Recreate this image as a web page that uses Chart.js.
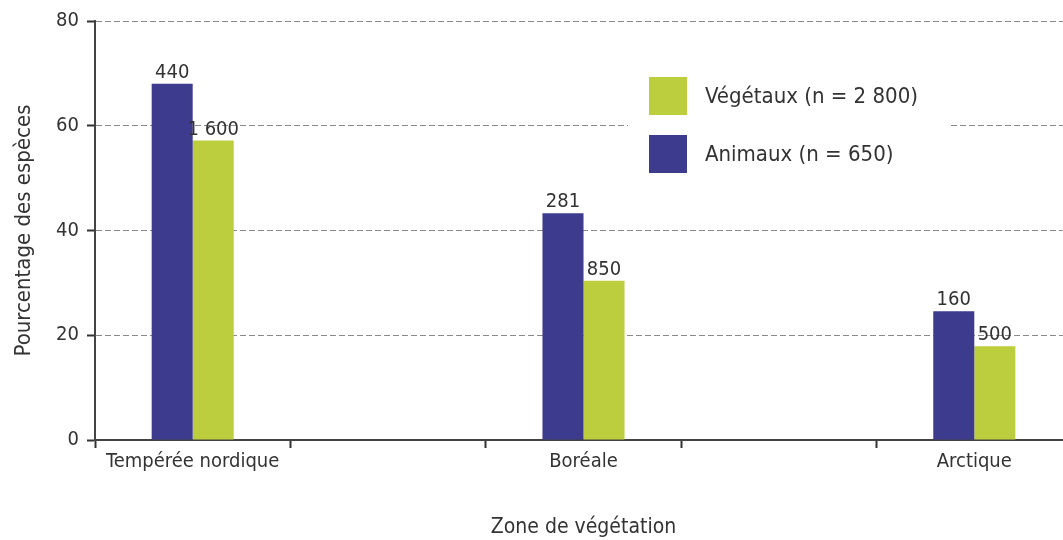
<!DOCTYPE html>
<html lang="fr">
<head>
<meta charset="utf-8">
<script src="https://cdn.jsdelivr.net/npm/chart.js@4.4.1/dist/chart.umd.min.js"></script>
<style>
  html, body { margin: 0; padding: 0; background: #fff; overflow: hidden; }
  #wrap { width: 1072px; height: 540px; position: relative; }
</style>
</head>
<body>
<div id="wrap"><canvas id="chart"></canvas></div>
<script>
// zones (blank slots keep the wide gaps between the groups)
const zones = ['Tempérée nordique', '', 'Boréale', '', 'Arctique'];
const animaux = [68, null, 43.3, null, 24.6];
const vegetaux = [57.2, null, 30.4, null, 17.9];
const animauxCounts = ['440', '', '281', '', '160'];
const vegetauxCounts = ['1 600', '', '850', '', '500'];
const legendOrder = [1, 0]; // Végétaux listed first

const FONT = '"Liberation Sans Narrow", "DejaVu Sans Condensed", "Liberation Sans", sans-serif';
const TEXT = '#333';

const overlay = {
    id: 'overlay',
    afterDatasetsDraw(chart) {
        const ctx = chart.ctx;
        const area = chart.chartArea;
        ctx.save();

        // counts above the bars
        ctx.font = '20px ' + FONT;
        ctx.fillStyle = TEXT;
        ctx.textAlign = 'center';
        ctx.textBaseline = 'bottom';
        chart.data.datasets.forEach(function (ds, i) {
            chart.getDatasetMeta(i).data.forEach(function (bar, j) {
                const txt = ds.counts[j];
                if (!txt) return;
                ctx.fillText(txt, bar.x, bar.y - 1);
            });
        });

        // legend box inside the plot
        const lx = area.left + 533, ly = area.top + 44;
        ctx.fillStyle = '#fff';
        ctx.fillRect(lx, ly, 320, 130);
        ctx.font = '22px ' + FONT;
        ctx.textAlign = 'left';
        ctx.textBaseline = 'middle';
        legendOrder.forEach(function (idx, k) {
            const ds = chart.data.datasets[idx];
            const y = ly + 12 + k * 58;
            ctx.fillStyle = ds.backgroundColor;
            ctx.fillRect(lx + 21, y, 38, 38);
            ctx.fillStyle = TEXT;
            ctx.fillText(ds.label, lx + 77, y + 20);
        });
        ctx.restore();
    }
};

const ctx = document.getElementById('chart').getContext('2d');
new Chart(ctx, {
    type: 'bar',
    data: {
        labels: zones,
        datasets: [
            {
                label: 'Animaux (n = 650)',
                data: animaux,
                counts: animauxCounts,
                backgroundColor: '#3d3b8e',
                categoryPercentage: 0.42,
                barPercentage: 1
            },
            {
                label: 'Végétaux (n = 2 800)',
                data: vegetaux,
                counts: vegetauxCounts,
                backgroundColor: '#bccd3e',
                categoryPercentage: 0.42,
                barPercentage: 1
            }
        ]
    },
    options: {
        responsive: true,
        maintainAspectRatio: false,
        animation: false,
        layout: { padding: { top: 21, right: 0, bottom: 0, left: 0 } },
        plugins: {
            legend: { display: false },
            tooltip: { enabled: false }
        },
        scales: {
            x: {
                afterFit: function (scale) { scale.height = 100; },
                grid: {
                    offset: true,
                    drawOnChartArea: false,
                    drawTicks: true,
                    tickLength: 8,
                    tickColor: TEXT,
                    tickWidth: 2
                },
                border: { color: '#444', width: 2 },
                ticks: {
                    color: TEXT,
                    padding: 2,
                    maxRotation: 0,
                    autoSkip: false,
                    font: { family: FONT, size: 20 }
                },
                title: {
                    display: true,
                    text: 'Zone de végétation',
                    color: TEXT,
                    padding: { top: 0, bottom: 0 },
                    font: { family: FONT, size: 21 }
                }
            },
            y: {
                min: 0,
                max: 80,
                afterFit: function (scale) { scale.width = 95; },
                ticks: {
                    stepSize: 20,
                    color: TEXT,
                    padding: 8,
                    font: { family: FONT, size: 20 }
                },
                grid: {
                    color: '#8a8a8a',
                    lineWidth: 1,
                    tickLength: 8,
                    tickColor: TEXT,
                    tickWidth: 2
                },
                border: { color: '#444', width: 2, dash: [6, 3] },
                title: {
                    display: true,
                    text: 'Pourcentage des espèces',
                    color: TEXT,
                    padding: { top: 11, bottom: 0 },
                    font: { family: FONT, size: 22 }
                }
            }
        }
    },
    plugins: [overlay]
});
</script>
</body>
</html>
